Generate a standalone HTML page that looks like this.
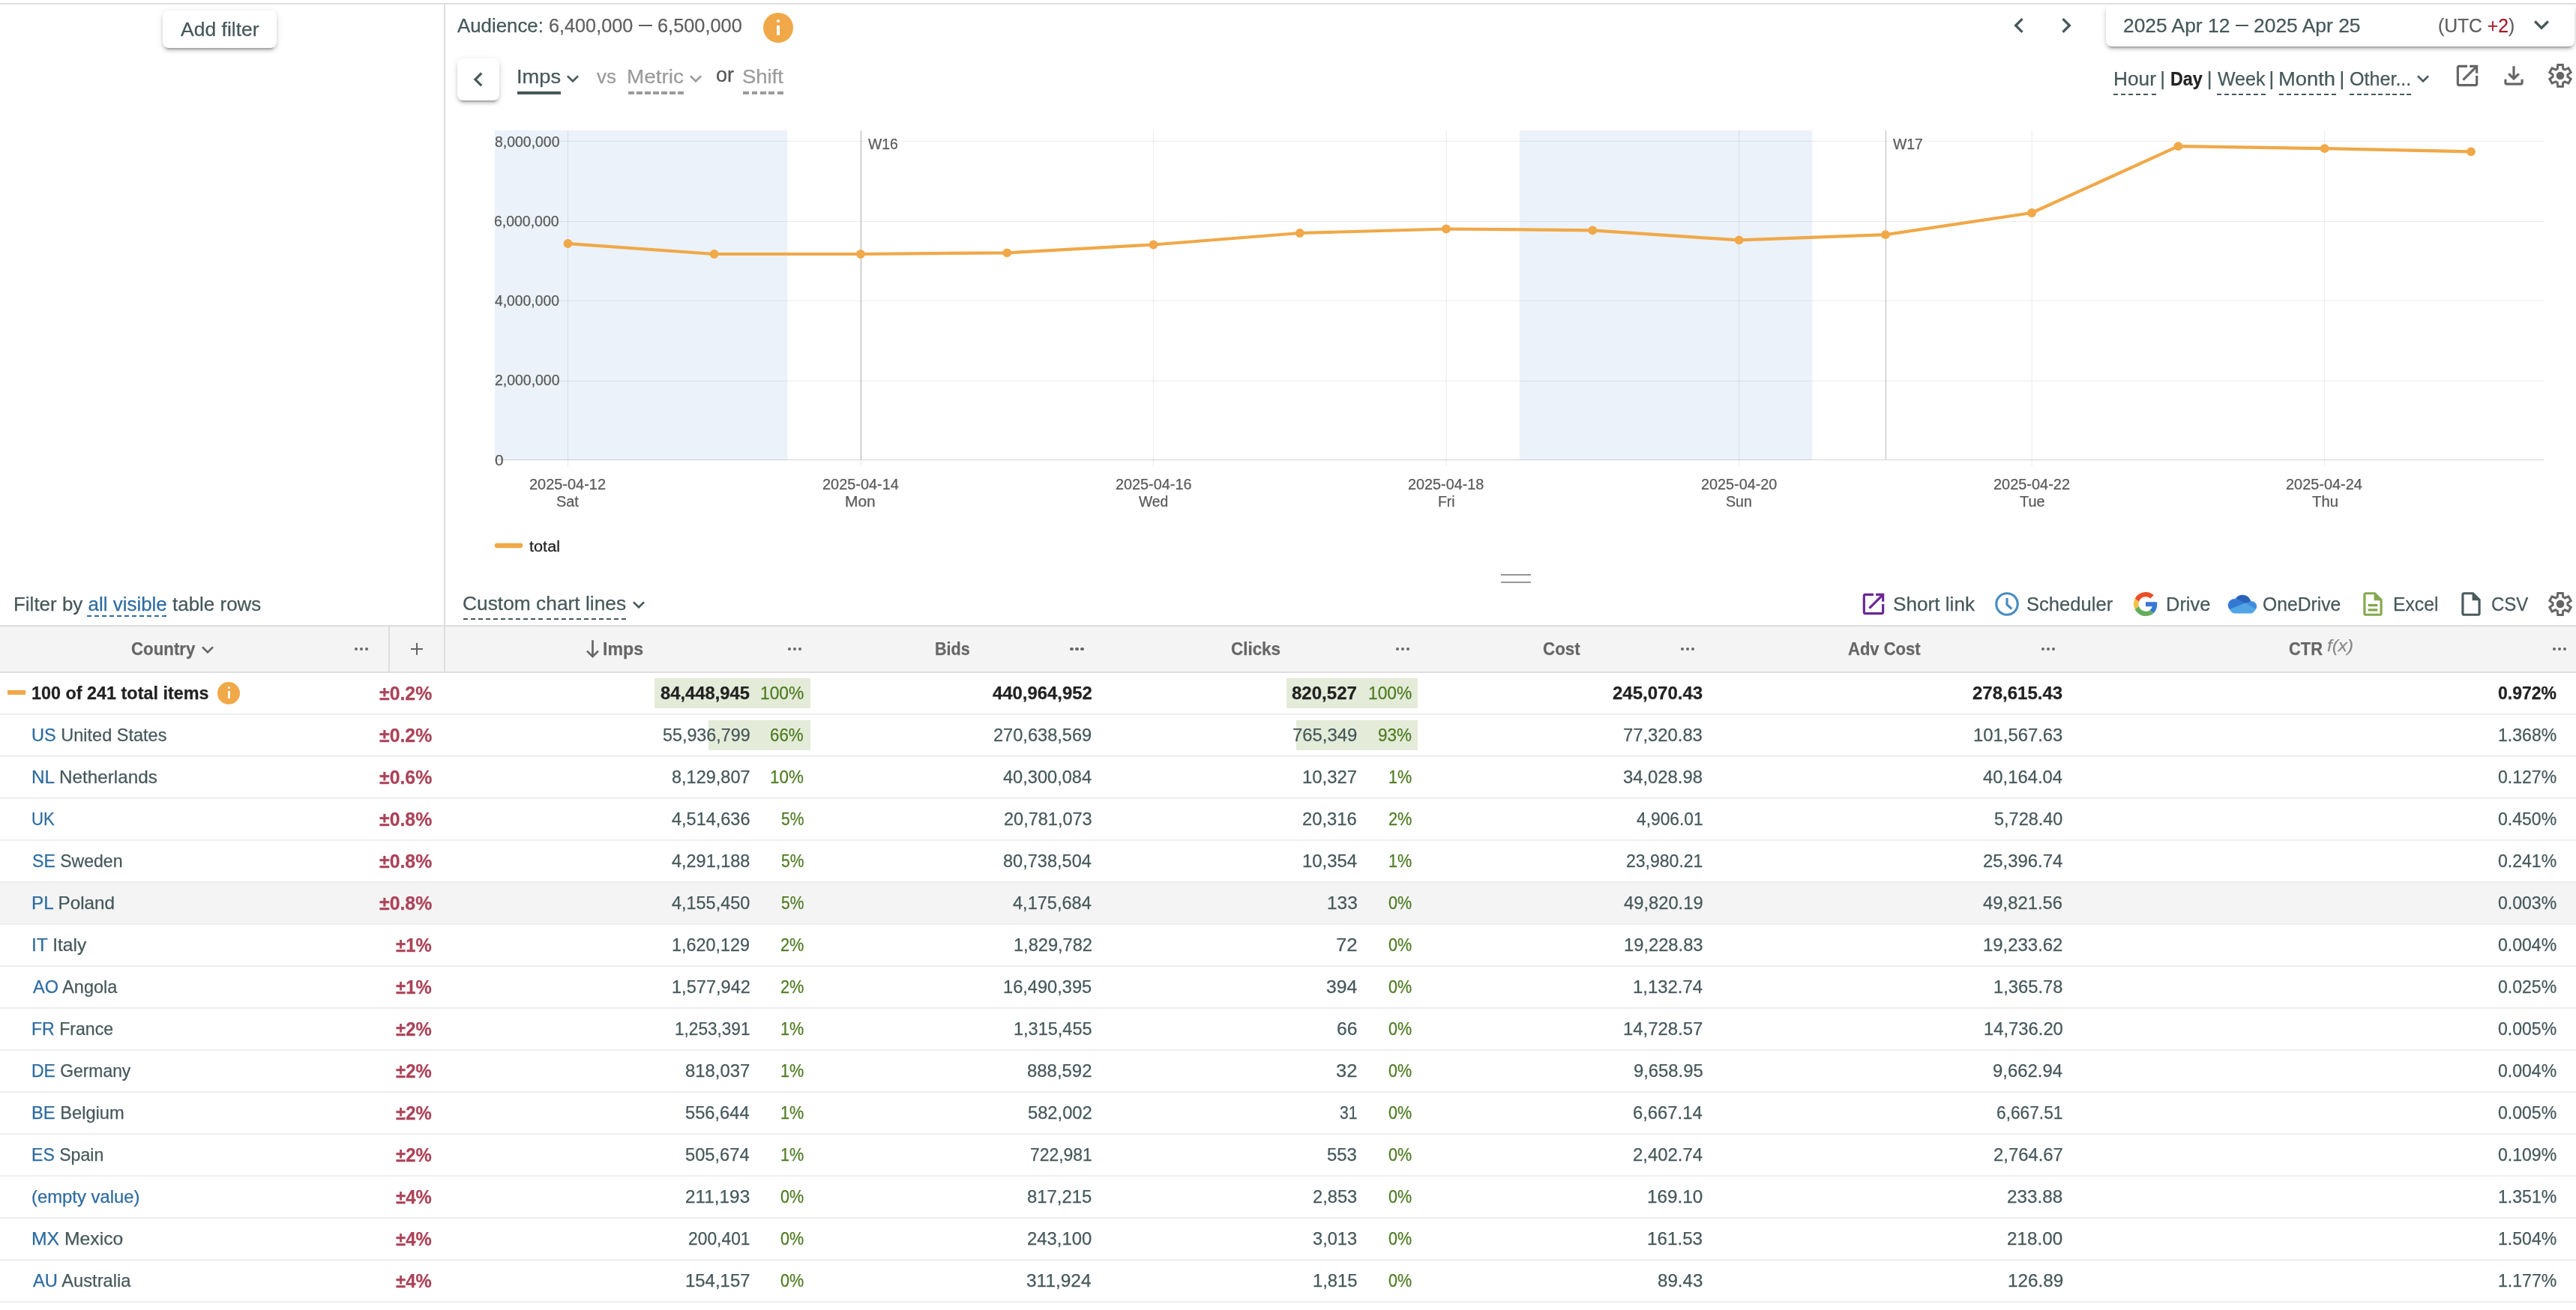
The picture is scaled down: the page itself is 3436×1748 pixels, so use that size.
<!DOCTYPE html>
<html><head><meta charset="utf-8"><title>Report</title>
<style>
html,body{margin:0;padding:0}
body{width:3436px;height:1748px;position:relative;overflow:hidden;background:#fff;font-family:"Liberation Sans", sans-serif;color:#46585a}
.a{position:absolute}
.t{position:absolute;white-space:nowrap;transform-origin:0 0;-webkit-text-stroke:0.25px currentColor}
.ic{position:absolute;overflow:visible}
.btn{position:absolute;background:#fff;border-radius:8px;box-shadow:0 6px 2px -4px rgba(0,0,0,.2),0 4px 4px 0 rgba(0,0,0,.14),0 2px 10px 0 rgba(0,0,0,.12)}
.row{position:absolute;left:0;width:3436px;height:54px;border-bottom:2px solid #eeeeee}
#app{position:absolute;left:0;top:0;width:3436px;height:1748px;overflow:hidden;will-change:transform}
</style></head><body><div id="app">
<div class="a" style="left:592px;top:6px;width:2px;height:890px;background:#dedede"></div>
<div class="btn" style="left:217px;top:14px;width:151.5px;height:50px"></div>
<span class="t" style="left:240.98px;top:22px;font-size:26px;line-height:34px;color:#46585a;transform:scaleX(1.0195)">Add filter</span>
<span class="t" style="left:609.88px;top:17px;font-size:26px;line-height:34px;color:#46585a;transform:scaleX(0.9936)">Audience:</span>
<span class="t" style="left:731.85px;top:17px;font-size:26px;line-height:34px;color:#606060;transform:scaleX(0.9706)">6,400,000</span>
<span class="t" style="left:877.25px;top:17px;font-size:26px;line-height:34px;color:#606060;transform:scaleX(0.9750)">6,500,000</span>
<div class="a" style="left:852.2px;top:33px;width:17.5px;height:2.2px;background:#606060"></div>
<div class="a" style="left:1018px;top:17px;width:40px;height:40px;border-radius:50%;background:#f0a848"></div>
<div class="a" style="left:1036px;top:26px;width:4.2px;height:4.2px;background:#fff;border-radius:50%"></div>
<div class="a" style="left:1036.3px;top:33.5px;width:3.6px;height:13px;background:#fff"></div>
<svg class="ic" style="left:2672.70px;top:14.00px" width="40" height="40" viewBox="0 0 24 24"><path fill="#46585a" d="M15.41 7.41L14 6l-6 6 6 6 1.41-1.41L10.83 12z"/></svg>
<svg class="ic" style="left:2735.50px;top:14.00px" width="40" height="40" viewBox="0 0 24 24"><path fill="#46585a" d="M10 6L8.59 7.41 13.17 12l-4.58 4.59L10 18l6-6z"/></svg>
<div class="btn" style="left:2809px;top:6px;width:624.5px;height:56px"></div>
<span class="t" style="left:2831.62px;top:17px;font-size:26px;line-height:34px;color:#46585a;transform:scaleX(1.0151)">2025 Apr 12</span>
<span class="t" style="left:3005.92px;top:17px;font-size:26px;line-height:34px;color:#46585a;transform:scaleX(1.0167)">2025 Apr 25</span>
<div class="a" style="left:2981.7px;top:33px;width:17px;height:2.2px;background:#46585a"></div>
<span class="t" style="left:3251.73px;top:17px;font-size:26px;line-height:34px;color:#606060;transform:scaleX(0.9494)">(UTC <span style="color:#a31c2e">+2</span>)</span>
<svg class="ic" style="left:3370.00px;top:13.40px" width="40" height="40" viewBox="0 0 24 24"><path fill="#46585a" d="M16.59 8.59L12 13.17 7.41 8.59 6 10l6 6 6-6z"/></svg>
<div class="a" style="left:0px;top:0px;width:3436px;height:4px;background:#fff"></div>
<div class="a" style="left:0px;top:4px;width:3436px;height:2px;background:#dedede"></div>
<div class="btn" style="left:610px;top:78px;width:56px;height:56px"></div>
<svg class="ic" style="left:619.30px;top:87.00px" width="38" height="38" viewBox="0 0 24 24"><path fill="#46585a" d="M15.41 7.41L14 6l-6 6 6 6 1.41-1.41L10.83 12z"/></svg>
<span class="t" style="left:688.93px;top:85px;font-size:26px;line-height:34px;color:#46585a;transform:scaleX(1.0488)">Imps</span>
<div class="a" style="left:690px;top:122px;width:58px;height:4px;background:#46585a"></div>
<svg class="ic" style="left:747.90px;top:88.90px" width="32" height="32" viewBox="0 0 24 24"><path fill="#46585a" d="M16.59 8.59L12 13.17 7.41 8.59 6 10l6 6 6-6z"/></svg>
<span class="t" style="left:796.17px;top:85px;font-size:26px;line-height:34px;color:#9b9b9b;transform:scaleX(0.9958)">vs</span>
<span class="t" style="left:836.22px;top:85px;font-size:26px;line-height:34px;color:#9b9b9b;transform:scaleX(1.0718)">Metric</span>
<div class="a" style="left:838.0px;top:122px;width:74.0px;height:4px;background:repeating-linear-gradient(90deg,#9b9b9b 0 8px,transparent 8px 11.000px)"></div>
<svg class="ic" style="left:911.60px;top:88.90px" width="32" height="32" viewBox="0 0 24 24"><path fill="#9b9b9b" d="M16.59 8.59L12 13.17 7.41 8.59 6 10l6 6 6-6z"/></svg>
<span class="t" style="left:955.38px;top:82px;font-size:28px;line-height:36px;color:#555555;transform:scaleX(0.9662)">or</span>
<span class="t" style="left:989.84px;top:85px;font-size:26px;line-height:34px;color:#9b9b9b;transform:scaleX(1.0535)">Shift</span>
<div class="a" style="left:991.0px;top:122px;width:54.0px;height:4px;background:repeating-linear-gradient(90deg,#9b9b9b 0 8px,transparent 8px 11.500px)"></div>
<span class="t" style="left:2818.66px;top:88px;font-size:26px;line-height:34px;color:#46585a;transform:scaleX(1.0114)">Hour</span>
<span class="t" style="left:2881.22px;top:88px;font-size:26px;line-height:34px;color:#46585a;transform:scaleX(1.0000)">|</span>
<span class="t" style="left:2895.05px;top:88px;font-size:26px;line-height:34px;color:#222222;transform:scaleX(0.8963);font-weight:700">Day</span>
<span class="t" style="left:2943.82px;top:88px;font-size:26px;line-height:34px;color:#46585a;transform:scaleX(1.0000)">|</span>
<span class="t" style="left:2958.19px;top:88px;font-size:26px;line-height:34px;color:#46585a;transform:scaleX(0.9605)">Week</span>
<span class="t" style="left:3026.42px;top:88px;font-size:26px;line-height:34px;color:#46585a;transform:scaleX(1.0000)">|</span>
<span class="t" style="left:3039.26px;top:88px;font-size:26px;line-height:34px;color:#46585a;transform:scaleX(1.0528)">Month</span>
<span class="t" style="left:3120.62px;top:88px;font-size:26px;line-height:34px;color:#46585a;transform:scaleX(1.0000)">|</span>
<span class="t" style="left:3134.22px;top:88px;font-size:26px;line-height:34px;color:#46585a;transform:scaleX(0.9655)">Other...</span>
<div class="a" style="left:2819.3px;top:125px;width:56.5px;height:2px;background:repeating-linear-gradient(90deg,#46585a 0 6px,transparent 6px 10.100px)"></div>
<div class="a" style="left:2957.0px;top:125px;width:64.8px;height:2px;background:repeating-linear-gradient(90deg,#46585a 0 6px,transparent 6px 9.800px)"></div>
<div class="a" style="left:3040.0px;top:125px;width:75.6px;height:2px;background:repeating-linear-gradient(90deg,#46585a 0 6px,transparent 6px 9.943px)"></div>
<div class="a" style="left:3133.8px;top:125px;width:82.5px;height:2px;background:repeating-linear-gradient(90deg,#46585a 0 6px,transparent 6px 9.562px)"></div>
<svg class="ic" style="left:3216.00px;top:88.90px" width="32" height="32" viewBox="0 0 24 24"><path fill="#46585a" d="M16.59 8.59L12 13.17 7.41 8.59 6 10l6 6 6-6z"/></svg>
<svg class="ic" style="left:3272.00px;top:82.00px" width="38" height="38" viewBox="0 0 24 24"><path fill="#666" d="M19 19H5V5h7V3H5c-1.11 0-2 .9-2 2v14c0 1.1.89 2 2 2h14c1.1 0 2-.9 2-2v-7h-2v7zM14 3v2h3.59l-9.83 9.83 1.41 1.41L19 6.41V10h2V3h-7z"/></svg>
<svg class="ic" style="left:3334.00px;top:82.00px" width="38" height="38" viewBox="0 0 24 24"><path fill="#666" d="M18 15v3H6v-3H4v3c0 1.1.9 2 2 2h12c1.1 0 2-.9 2-2v-3h-2zm-1-4l-1.41-1.41L13 12.17V4h-2v8.17L8.41 9.59 7 11l5 5 5-5z"/></svg>
<svg class="ic" style="left:0;top:0" width="3436" height="900"><path d="M3411.19 91.75L3411.75 86.50L3418.25 86.50L3418.81 91.75A10.0 10.0 0 0 1 3421.11 93.08L3425.93 90.94L3429.18 96.56L3424.92 99.67A10.0 10.0 0 0 1 3424.92 102.33L3429.18 105.44L3425.93 111.06L3421.11 108.92A10.0 10.0 0 0 1 3418.81 110.25L3418.25 115.50L3411.75 115.50L3411.19 110.25A10.0 10.0 0 0 1 3408.89 108.92L3404.07 111.06L3400.82 105.44L3405.08 102.33A10.0 10.0 0 0 1 3405.08 99.67L3400.82 96.56L3404.07 90.94L3408.89 93.08A10.0 10.0 0 0 1 3411.19 91.75Z" fill="none" stroke="#666666" stroke-width="3" stroke-linejoin="miter"/><circle cx="3415" cy="101" r="5.3" fill="#666666"/><path d="M3411.19 796.65L3411.75 791.40L3418.25 791.40L3418.81 796.65A10.0 10.0 0 0 1 3421.11 797.98L3425.93 795.84L3429.18 801.46L3424.92 804.57A10.0 10.0 0 0 1 3424.92 807.23L3429.18 810.34L3425.93 815.96L3421.11 813.82A10.0 10.0 0 0 1 3418.81 815.15L3418.25 820.40L3411.75 820.40L3411.19 815.15A10.0 10.0 0 0 1 3408.89 813.82L3404.07 815.96L3400.82 810.34L3405.08 807.23A10.0 10.0 0 0 1 3405.08 804.57L3400.82 801.46L3404.07 795.84L3408.89 797.98A10.0 10.0 0 0 1 3411.19 796.65Z" fill="none" stroke="#666666" stroke-width="3" stroke-linejoin="miter"/><circle cx="3415" cy="805.9" r="5.3" fill="#666666"/></svg>
<svg class="ic" style="left:0;top:0" width="3436" height="760"><rect x="659.9" y="174" width="390.5" height="439.5" fill="#ebf2f9"/><rect x="2026.8" y="174" width="390.5" height="439.5" fill="#ebf2f9"/><rect x="660" y="188" width="2733.5" height="1" fill="rgba(0,0,0,0.065)"/><rect x="660" y="295" width="2733.5" height="1" fill="rgba(0,0,0,0.065)"/><rect x="660" y="401" width="2733.5" height="1" fill="rgba(0,0,0,0.065)"/><rect x="660" y="508" width="2733.5" height="1" fill="rgba(0,0,0,0.065)"/><rect x="757.00" y="174" width="1" height="448" fill="rgba(0,0,0,0.085)"/><rect x="1147.54" y="174" width="1" height="448" fill="rgba(0,0,0,0.085)"/><rect x="1538.08" y="174" width="1" height="448" fill="rgba(0,0,0,0.085)"/><rect x="1928.62" y="174" width="1" height="448" fill="rgba(0,0,0,0.085)"/><rect x="2319.16" y="174" width="1" height="448" fill="rgba(0,0,0,0.085)"/><rect x="2709.70" y="174" width="1" height="448" fill="rgba(0,0,0,0.085)"/><rect x="3100.24" y="174" width="1" height="448" fill="rgba(0,0,0,0.085)"/><rect x="1147.94" y="174" width="1.2" height="439" fill="rgba(0,0,0,0.24)"/><rect x="2514.83" y="174" width="1.2" height="439" fill="rgba(0,0,0,0.24)"/><rect x="660" y="613" width="2733.5" height="1.2" fill="rgba(0,0,0,0.145)"/><polyline fill="none" stroke="#f0a848" stroke-width="4.2" stroke-linejoin="round" stroke-linecap="round" points="757.5,325.0 952.6,339.0 1148.0,339.0 1343.2,337.3 1538.5,326.5 1733.8,311.0 1929.0,305.5 2124.3,307.3 2319.6,320.4 2514.9,313.2 2710.1,284.0 2905.4,195.2 3100.7,198.2 3296.0,202.3"/><circle cx="757.5" cy="325.0" r="5.9" fill="#f0a848"/><circle cx="952.6" cy="339.0" r="5.9" fill="#f0a848"/><circle cx="1148.0" cy="339.0" r="5.9" fill="#f0a848"/><circle cx="1343.2" cy="337.3" r="5.9" fill="#f0a848"/><circle cx="1538.5" cy="326.5" r="5.9" fill="#f0a848"/><circle cx="1733.8" cy="311.0" r="5.9" fill="#f0a848"/><circle cx="1929.0" cy="305.5" r="5.9" fill="#f0a848"/><circle cx="2124.3" cy="307.3" r="5.9" fill="#f0a848"/><circle cx="2319.6" cy="320.4" r="5.9" fill="#f0a848"/><circle cx="2514.9" cy="313.2" r="5.9" fill="#f0a848"/><circle cx="2710.1" cy="284.0" r="5.9" fill="#f0a848"/><circle cx="2905.4" cy="195.2" r="5.9" fill="#f0a848"/><circle cx="3100.7" cy="198.2" r="5.9" fill="#f0a848"/><circle cx="3296.0" cy="202.3" r="5.9" fill="#f0a848"/><line x1="663" y1="728" x2="694" y2="728" stroke="#f0a848" stroke-width="6.5" stroke-linecap="round"/></svg>
<span class="t" style="left:659.54px;top:175px;font-size:20px;line-height:28px;color:#5a5a5a;transform:scaleX(0.9716)">8,000,000</span>
<span class="t" style="left:659.48px;top:281px;font-size:20px;line-height:28px;color:#5a5a5a;transform:scaleX(0.9724)">6,000,000</span>
<span class="t" style="left:660.12px;top:387px;font-size:20px;line-height:28px;color:#5a5a5a;transform:scaleX(0.9650)">4,000,000</span>
<span class="t" style="left:659.51px;top:493px;font-size:20px;line-height:28px;color:#5a5a5a;transform:scaleX(0.9720)">2,000,000</span>
<span class="t" style="left:659.50px;top:600px;font-size:20px;line-height:28px;color:#5a5a5a;transform:scaleX(1.0460)">0</span>
<span class="t" style="left:1157.99px;top:178px;font-size:20px;line-height:28px;color:#5a5a5a;transform:scaleX(0.9671)">W16</span>
<span class="t" style="left:2524.99px;top:178px;font-size:20px;line-height:28px;color:#5a5a5a;transform:scaleX(0.9690)">W17</span>
<span class="t" style="left:706.38px;top:632px;font-size:20px;line-height:28px;color:#5a5a5a;transform:scaleX(0.9968)">2025-04-12</span>
<span class="t" style="left:741.97px;top:655px;font-size:20px;line-height:28px;color:#5a5a5a;transform:scaleX(0.9960)">Sat</span>
<span class="t" style="left:1096.79px;top:632px;font-size:20px;line-height:28px;color:#5a5a5a;transform:scaleX(0.9957)">2025-04-14</span>
<span class="t" style="left:1127.48px;top:655px;font-size:20px;line-height:28px;color:#5a5a5a;transform:scaleX(1.0463)">Mon</span>
<span class="t" style="left:1487.68px;top:632px;font-size:20px;line-height:28px;color:#5a5a5a;transform:scaleX(0.9916)">2025-04-16</span>
<span class="t" style="left:1519.30px;top:655px;font-size:20px;line-height:28px;color:#5a5a5a;transform:scaleX(0.9652)">Wed</span>
<span class="t" style="left:1878.26px;top:632px;font-size:20px;line-height:28px;color:#5a5a5a;transform:scaleX(0.9908)">2025-04-18</span>
<span class="t" style="left:1917.52px;top:655px;font-size:20px;line-height:28px;color:#5a5a5a;transform:scaleX(0.9703)">Fri</span>
<span class="t" style="left:2268.79px;top:632px;font-size:20px;line-height:28px;color:#5a5a5a;transform:scaleX(0.9899)">2025-04-20</span>
<span class="t" style="left:2302.08px;top:655px;font-size:20px;line-height:28px;color:#5a5a5a;transform:scaleX(0.9822)">Sun</span>
<span class="t" style="left:2659.08px;top:632px;font-size:20px;line-height:28px;color:#5a5a5a;transform:scaleX(0.9968)">2025-04-22</span>
<span class="t" style="left:2693.63px;top:655px;font-size:20px;line-height:28px;color:#5a5a5a;transform:scaleX(0.9970)">Tue</span>
<span class="t" style="left:3049.49px;top:632px;font-size:20px;line-height:28px;color:#5a5a5a;transform:scaleX(0.9957)">2025-04-24</span>
<span class="t" style="left:3083.73px;top:655px;font-size:20px;line-height:28px;color:#5a5a5a;transform:scaleX(1.0178)">Thu</span>
<span class="t" style="left:705.91px;top:715px;font-size:20px;line-height:28px;color:#222222;transform:scaleX(1.0860)">total</span>
<div class="a" style="left:2002px;top:766px;width:40px;height:2px;background:#979797"></div>
<div class="a" style="left:2002px;top:776px;width:40px;height:2px;background:#979797"></div>
<span class="t" style="left:18.18px;top:789px;font-size:26px;line-height:34px;color:#46585a;transform:scaleX(0.9981)">Filter by <span style="color:#2e6ca0">all visible</span> table rows</span>
<div class="a" style="left:116.0px;top:821px;width:106.0px;height:2px;background:repeating-linear-gradient(90deg,#2e6ca0 0 6px,transparent 6px 10.000px)"></div>
<span class="t" style="left:617.37px;top:788px;font-size:26px;line-height:34px;color:#46585a;transform:scaleX(1.0134)">Custom chart lines</span>
<div class="a" style="left:618.0px;top:825px;width:217.0px;height:2px;background:repeating-linear-gradient(90deg,#46585a 0 6px,transparent 6px 10.048px)"></div>
<svg class="ic" style="left:836.00px;top:790.60px" width="32" height="32" viewBox="0 0 24 24"><path fill="#46585a" d="M16.59 8.59L12 13.17 7.41 8.59 6 10l6 6 6-6z"/></svg>
<svg class="ic" style="left:2479.50px;top:786.80px" width="38" height="38" viewBox="0 0 24 24"><path fill="#6a2796" d="M19 19H5V5h7V3H5c-1.11 0-2 .9-2 2v14c0 1.1.89 2 2 2h14c1.1 0 2-.9 2-2v-7h-2v7zM14 3v2h3.59l-9.83 9.83 1.41 1.41L19 6.41V10h2V3h-7z"/></svg>
<span class="t" style="left:2524.61px;top:789px;font-size:26px;line-height:34px;color:#46585a;transform:scaleX(1.0062)">Short link</span>
<svg class="ic" style="left:2658.3px;top:786.9px" width="38" height="38" viewBox="0 0 24 24"><circle cx="12" cy="12" r="9" fill="none" stroke="#4a8cc2" stroke-width="2"/><path d="M12 7V12.45L16 16.1" fill="none" stroke="#4a8cc2" stroke-width="2"/></svg>
<span class="t" style="left:2703.05px;top:789px;font-size:26px;line-height:34px;color:#46585a;transform:scaleX(0.9843)">Scheduler</span>
<svg class="ic" style="left:2845.9px;top:790px" width="32" height="32" viewBox="0 0 48 48"><path fill="#e94f27" d="M24 9.5c3.54 0 6.71 1.22 9.21 3.6l6.85-6.85C35.9 2.38 30.47 0 24 0 14.62 0 6.51 5.38 2.56 13.22l7.98 6.19C12.43 13.72 17.74 9.5 24 9.5z"/><path fill="#3a78d6" d="M46.98 24.55c0-1.57-.15-3.09-.38-4.55H24v9.02h12.94c-.58 2.96-2.26 5.48-4.78 7.18l7.73 6c4.51-4.18 7.09-10.36 7.09-17.65z"/><path fill="#f5c144" d="M10.53 28.59c-.48-1.45-.76-2.99-.76-4.59s.27-3.14.76-4.59l-7.98-6.19C.92 16.46 0 20.12 0 24c0 3.88.92 7.54 2.56 10.78l7.97-6.19z"/><path fill="#66ad5b" d="M24 48c6.48 0 11.93-2.13 15.89-5.81l-7.73-6c-2.15 1.45-4.92 2.3-8.16 2.3-6.26 0-11.57-4.22-13.47-9.91l-7.98 6.19C6.51 42.62 14.62 48 24 48z"/></svg>
<span class="t" style="left:2888.63px;top:789px;font-size:26px;line-height:34px;color:#46585a;transform:scaleX(0.9792)">Drive</span>
<svg class="ic" style="left:2972px;top:793.9px" width="38" height="24.3" viewBox="0 0 38 24.3"><path fill="#2a62b9" stroke="#2a62b9" stroke-width="0.5" d="M9.97 4.88C12 1.8 15.2 0 18.9 0C24.5 0 28.6 3.4 30.4 8.66L22.7 11.2Z"/><path fill="#3379d4" stroke="#3379d4" stroke-width="0.5" d="M0 13.8C0 9 3.8 5.2 8.6 5.2C9.1 5.2 9.5 5 9.97 4.88L22.9 11.07L2.4 19.4C0.9 17.8 0 15.9 0 13.8Z"/><path fill="#3f8ddd" stroke="#3f8ddd" stroke-width="0.5" d="M22.6 11.1L30.4 8.66C31 8.55 31.6 8.5 32.2 8.6C35.5 9 38 11.8 38 15.3C38 16.7 37.4 18 36.4 19.1Z"/><path fill="#51a5e5" stroke="#51a5e5" stroke-width="0.5" d="M2.4 19.3L22.7 11.07L36.4 19C35.3 22 32.9 24.3 30 24.3H9C6 24.3 3.6 22.3 2.4 19.3Z"/></svg>
<span class="t" style="left:3017.94px;top:789px;font-size:26px;line-height:34px;color:#46585a;transform:scaleX(0.9489)">OneDrive</span>
<svg class="ic" style="left:3146.00px;top:786.85px" width="38" height="38" viewBox="0 0 24 24"><path fill="#84a94d" d="M8 16h8v2H8zm0-4h8v2H8zm6-10H6c-1.1 0-2 .9-2 2v16c0 1.1.89 2 1.99 2H18c1.1 0 2-.9 2-2V8l-6-6zm4 18H6V4h7v5h5v11z"/></svg>
<span class="t" style="left:3191.69px;top:789px;font-size:26px;line-height:34px;color:#46585a;transform:scaleX(0.9516)">Excel</span>
<svg class="ic" style="left:3276.90px;top:786.85px" width="38" height="38" viewBox="0 0 24 24"><path fill="#4a5b5d" d="M14 2H6c-1.1 0-1.99.9-1.99 2L4 20c0 1.1.89 2 1.99 2H18c1.1 0 2-.9 2-2V8l-6-6zM6 20V4h7v5h5v11H6z"/></svg>
<span class="t" style="left:3322.60px;top:789px;font-size:26px;line-height:34px;color:#46585a;transform:scaleX(0.9219)">CSV</span>
<div class="a" style="left:0px;top:834px;width:3436px;height:2px;background:#dedede"></div>
<div class="a" style="left:0px;top:836px;width:3436px;height:60px;background:#f4f4f4"></div>
<div class="a" style="left:0px;top:896px;width:3436px;height:2px;background:#dedede"></div>
<div class="a" style="left:518px;top:836px;width:2px;height:60px;background:#dedede"></div>
<div class="a" style="left:592px;top:836px;width:2px;height:60px;background:#dedede"></div>
<div class="a" style="left:472.8px;top:863.8px;width:4.4px;height:4.4px;border-radius:50%;background:#666"></div><div class="a" style="left:479.8px;top:863.8px;width:4.4px;height:4.4px;border-radius:50%;background:#666"></div><div class="a" style="left:486.8px;top:863.8px;width:4.4px;height:4.4px;border-radius:50%;background:#666"></div>
<div class="a" style="left:1050.8px;top:863.8px;width:4.4px;height:4.4px;border-radius:50%;background:#666"></div><div class="a" style="left:1057.8px;top:863.8px;width:4.4px;height:4.4px;border-radius:50%;background:#666"></div><div class="a" style="left:1064.8px;top:863.8px;width:4.4px;height:4.4px;border-radius:50%;background:#666"></div>
<div class="a" style="left:1427.3px;top:863.8px;width:4.4px;height:4.4px;border-radius:50%;background:#666"></div><div class="a" style="left:1434.3px;top:863.8px;width:4.4px;height:4.4px;border-radius:50%;background:#666"></div><div class="a" style="left:1441.3px;top:863.8px;width:4.4px;height:4.4px;border-radius:50%;background:#666"></div>
<div class="a" style="left:1861.8px;top:863.8px;width:4.4px;height:4.4px;border-radius:50%;background:#666"></div><div class="a" style="left:1868.8px;top:863.8px;width:4.4px;height:4.4px;border-radius:50%;background:#666"></div><div class="a" style="left:1875.8px;top:863.8px;width:4.4px;height:4.4px;border-radius:50%;background:#666"></div>
<div class="a" style="left:2241.8px;top:863.8px;width:4.4px;height:4.4px;border-radius:50%;background:#666"></div><div class="a" style="left:2248.8px;top:863.8px;width:4.4px;height:4.4px;border-radius:50%;background:#666"></div><div class="a" style="left:2255.8px;top:863.8px;width:4.4px;height:4.4px;border-radius:50%;background:#666"></div>
<div class="a" style="left:2722.8px;top:863.8px;width:4.4px;height:4.4px;border-radius:50%;background:#666"></div><div class="a" style="left:2729.8px;top:863.8px;width:4.4px;height:4.4px;border-radius:50%;background:#666"></div><div class="a" style="left:2736.8px;top:863.8px;width:4.4px;height:4.4px;border-radius:50%;background:#666"></div>
<div class="a" style="left:3404.8px;top:863.8px;width:4.4px;height:4.4px;border-radius:50%;background:#666"></div><div class="a" style="left:3411.8px;top:863.8px;width:4.4px;height:4.4px;border-radius:50%;background:#666"></div><div class="a" style="left:3418.8px;top:863.8px;width:4.4px;height:4.4px;border-radius:50%;background:#666"></div>
<span class="t" style="left:174.95px;top:850px;font-size:24px;line-height:32px;color:#666666;transform:scaleX(0.9286);font-weight:700">Country</span>
<svg class="ic" style="left:261.00px;top:851.00px" width="32" height="32" viewBox="0 0 24 24"><path fill="#666" d="M16.59 8.59L12 13.17 7.41 8.59 6 10l6 6 6-6z"/></svg>
<div class="a" style="left:548.2px;top:865px;width:15.8px;height:2.2px;background:#646464"></div>
<div class="a" style="left:555px;top:858.2px;width:2.2px;height:15.6px;background:#646464"></div>
<svg class="ic" style="left:0;top:0" width="900" height="900"><path d="M790.5 854.2V876M783 868.6L790.5 876.1L798 868.6" fill="none" stroke="#666" stroke-width="2.7"/></svg>
<span class="t" style="left:804.33px;top:850px;font-size:24px;line-height:32px;color:#666666;transform:scaleX(0.9639);font-weight:700">Imps</span>
<span class="t" style="left:1247.34px;top:850px;font-size:24px;line-height:32px;color:#666666;transform:scaleX(0.8961);font-weight:700">Bids</span>
<span class="t" style="left:1641.95px;top:850px;font-size:24px;line-height:32px;color:#666666;transform:scaleX(0.9341);font-weight:700">Clicks</span>
<span class="t" style="left:2057.75px;top:850px;font-size:24px;line-height:32px;color:#666666;transform:scaleX(0.9308);font-weight:700">Cost</span>
<span class="t" style="left:2465.31px;top:850px;font-size:24px;line-height:32px;color:#666666;transform:scaleX(0.9169);font-weight:700">Adv Cost</span>
<span class="t" style="left:3053.17px;top:850px;font-size:24px;line-height:32px;color:#666666;transform:scaleX(0.9120);font-weight:700">CTR</span>
<span class="t" style="left:3103.64px;top:847px;font-size:22px;line-height:30px;color:#8a8a8a;transform:scaleX(1.1007);font-style:italic">f(x)</span>
<div class="row" style="top:898px"></div>
<div class="row" style="top:954px"></div>
<div class="row" style="top:1010px"></div>
<div class="row" style="top:1066px"></div>
<div class="row" style="top:1122px"></div>
<div class="row" style="top:1178px;background:#f4f4f4"></div>
<div class="row" style="top:1234px"></div>
<div class="row" style="top:1290px"></div>
<div class="row" style="top:1346px"></div>
<div class="row" style="top:1402px"></div>
<div class="row" style="top:1458px"></div>
<div class="row" style="top:1514px"></div>
<div class="row" style="top:1570px"></div>
<div class="row" style="top:1626px"></div>
<div class="row" style="top:1682px"></div>
<div class="a" style="left:873px;top:905px;width:208px;height:39.5px;background:#e4ebd9"></div>
<div class="a" style="left:945px;top:961px;width:136px;height:39.5px;background:#e4ebd9"></div>
<div class="a" style="left:1715.8px;top:905px;width:175.2px;height:39.5px;background:#e4ebd9"></div>
<div class="a" style="left:1728.8px;top:961px;width:162.2px;height:39.5px;background:#e4ebd9"></div>
<div class="a" style="left:10px;top:921px;width:24px;height:6px;background:#f0a848"></div>
<div class="a" style="left:290.3px;top:909.5px;width:30px;height:30px;border-radius:50%;background:#f0a848"></div>
<div class="a" style="left:303.8px;top:916.2px;width:3.2px;height:3.2px;background:#fff;border-radius:50%"></div>
<div class="a" style="left:304px;top:921.6px;width:2.8px;height:10px;background:#fff"></div>
<span class="t" style="left:41.90px;top:909px;font-size:24px;line-height:32px;color:#222222;transform:scaleX(0.9742);font-weight:700">100 of 241 total items</span>
<span class="t" style="left:505.57px;top:908px;font-size:26px;line-height:34px;color:#ab4358;transform:scaleX(0.9553);font-weight:700">±0.2%</span>
<span class="t" style="left:881.21px;top:909px;font-size:24px;line-height:32px;color:#222222;transform:scaleX(0.9909);font-weight:700">84,448,945</span>
<span class="t" style="left:1013.96px;top:909px;font-size:24px;line-height:32px;color:#4e7b22;transform:scaleX(0.9504)">100%</span>
<span class="t" style="left:1323.68px;top:909px;font-size:24px;line-height:32px;color:#222222;transform:scaleX(0.9951);font-weight:700">440,964,952</span>
<span class="t" style="left:1723.25px;top:909px;font-size:24px;line-height:32px;color:#222222;transform:scaleX(1.0016);font-weight:700">820,527</span>
<span class="t" style="left:1824.66px;top:909px;font-size:24px;line-height:32px;color:#4e7b22;transform:scaleX(0.9504)">100%</span>
<span class="t" style="left:2150.78px;top:909px;font-size:24px;line-height:32px;color:#222222;transform:scaleX(1.0008);font-weight:700">245,070.43</span>
<span class="t" style="left:2631.18px;top:909px;font-size:24px;line-height:32px;color:#222222;transform:scaleX(1.0008);font-weight:700">278,615.43</span>
<span class="t" style="left:3331.83px;top:909px;font-size:24px;line-height:32px;color:#222222;transform:scaleX(0.9582);font-weight:700">0.972%</span>
<span class="t" style="left:41.99px;top:965px;font-size:24px;line-height:32px;color:#46585a;transform:scaleX(0.9802)"><span style="color:#2e6ca0">US</span> United States</span>
<span class="t" style="left:505.57px;top:964px;font-size:26px;line-height:34px;color:#ab4358;transform:scaleX(0.9553);font-weight:700">±0.2%</span>
<span class="t" style="left:884.10px;top:965px;font-size:24px;line-height:32px;color:#46585a;transform:scaleX(0.9713)">55,936,799</span>
<span class="t" style="left:1027.49px;top:965px;font-size:24px;line-height:32px;color:#4e7b22;transform:scaleX(0.9297)">66%</span>
<span class="t" style="left:1325.41px;top:965px;font-size:24px;line-height:32px;color:#46585a;transform:scaleX(0.9831)">270,638,569</span>
<span class="t" style="left:1723.91px;top:965px;font-size:24px;line-height:32px;color:#46585a;transform:scaleX(0.9947)">765,349</span>
<span class="t" style="left:1837.92px;top:965px;font-size:24px;line-height:32px;color:#4e7b22;transform:scaleX(0.9355)">93%</span>
<span class="t" style="left:2165.32px;top:965px;font-size:24px;line-height:32px;color:#46585a;transform:scaleX(0.9914)">77,320.83</span>
<span class="t" style="left:2632.42px;top:965px;font-size:24px;line-height:32px;color:#46585a;transform:scaleX(0.9937)">101,567.63</span>
<span class="t" style="left:3331.77px;top:965px;font-size:24px;line-height:32px;color:#46585a;transform:scaleX(0.9613)">1.368%</span>
<span class="t" style="left:41.86px;top:1021px;font-size:24px;line-height:32px;color:#46585a;transform:scaleX(1.0115)"><span style="color:#2e6ca0">NL</span> Netherlands</span>
<span class="t" style="left:505.57px;top:1020px;font-size:26px;line-height:34px;color:#ab4358;transform:scaleX(0.9553);font-weight:700">±0.6%</span>
<span class="t" style="left:896.15px;top:1021px;font-size:24px;line-height:32px;color:#46585a;transform:scaleX(0.9788)">8,129,807</span>
<span class="t" style="left:1027.32px;top:1021px;font-size:24px;line-height:32px;color:#4e7b22;transform:scaleX(0.9333)">10%</span>
<span class="t" style="left:1338.04px;top:1021px;font-size:24px;line-height:32px;color:#46585a;transform:scaleX(0.9831)">40,300,084</span>
<span class="t" style="left:1737.18px;top:1021px;font-size:24px;line-height:32px;color:#46585a;transform:scaleX(0.9965)">10,327</span>
<span class="t" style="left:1851.76px;top:1021px;font-size:24px;line-height:32px;color:#4e7b22;transform:scaleX(0.9010)">1%</span>
<span class="t" style="left:2165.24px;top:1021px;font-size:24px;line-height:32px;color:#46585a;transform:scaleX(0.9919)">34,028.98</span>
<span class="t" style="left:2644.98px;top:1021px;font-size:24px;line-height:32px;color:#46585a;transform:scaleX(0.9939)">40,164.04</span>
<span class="t" style="left:3331.92px;top:1021px;font-size:24px;line-height:32px;color:#46585a;transform:scaleX(0.9596)">0.127%</span>
<span class="t" style="left:42.10px;top:1077px;font-size:24px;line-height:32px;color:#46585a;transform:scaleX(0.9224)"><span style="color:#2e6ca0">UK</span></span>
<span class="t" style="left:505.57px;top:1076px;font-size:26px;line-height:34px;color:#ab4358;transform:scaleX(0.9553);font-weight:700">±0.8%</span>
<span class="t" style="left:896.06px;top:1077px;font-size:24px;line-height:32px;color:#46585a;transform:scaleX(0.9786)">4,514,636</span>
<span class="t" style="left:1041.88px;top:1077px;font-size:24px;line-height:32px;color:#4e7b22;transform:scaleX(0.8769)">5%</span>
<span class="t" style="left:1338.99px;top:1077px;font-size:24px;line-height:32px;color:#46585a;transform:scaleX(0.9797)">20,781,073</span>
<span class="t" style="left:1737.43px;top:1077px;font-size:24px;line-height:32px;color:#46585a;transform:scaleX(0.9917)">20,316</span>
<span class="t" style="left:1851.57px;top:1077px;font-size:24px;line-height:32px;color:#4e7b22;transform:scaleX(0.9068)">2%</span>
<span class="t" style="left:2182.58px;top:1077px;font-size:24px;line-height:32px;color:#46585a;transform:scaleX(0.9494)">4,906.01</span>
<span class="t" style="left:2660.10px;top:1077px;font-size:24px;line-height:32px;color:#46585a;transform:scaleX(0.9786)">5,728.40</span>
<span class="t" style="left:3331.92px;top:1077px;font-size:24px;line-height:32px;color:#46585a;transform:scaleX(0.9596)">0.450%</span>
<span class="t" style="left:42.65px;top:1133px;font-size:24px;line-height:32px;color:#46585a;transform:scaleX(0.9608)"><span style="color:#2e6ca0">SE</span> Sweden</span>
<span class="t" style="left:505.57px;top:1132px;font-size:26px;line-height:34px;color:#ab4358;transform:scaleX(0.9553);font-weight:700">±0.8%</span>
<span class="t" style="left:896.23px;top:1133px;font-size:24px;line-height:32px;color:#46585a;transform:scaleX(0.9769)">4,291,188</span>
<span class="t" style="left:1041.88px;top:1133px;font-size:24px;line-height:32px;color:#4e7b22;transform:scaleX(0.8769)">5%</span>
<span class="t" style="left:1338.20px;top:1133px;font-size:24px;line-height:32px;color:#46585a;transform:scaleX(0.9818)">80,738,504</span>
<span class="t" style="left:1736.75px;top:1133px;font-size:24px;line-height:32px;color:#46585a;transform:scaleX(0.9966)">10,354</span>
<span class="t" style="left:1851.76px;top:1133px;font-size:24px;line-height:32px;color:#4e7b22;transform:scaleX(0.9010)">1%</span>
<span class="t" style="left:2168.82px;top:1133px;font-size:24px;line-height:32px;color:#46585a;transform:scaleX(0.9589)">23,980.21</span>
<span class="t" style="left:2644.88px;top:1133px;font-size:24px;line-height:32px;color:#46585a;transform:scaleX(0.9948)">25,396.74</span>
<span class="t" style="left:3331.92px;top:1133px;font-size:24px;line-height:32px;color:#46585a;transform:scaleX(0.9596)">0.241%</span>
<span class="t" style="left:41.86px;top:1189px;font-size:24px;line-height:32px;color:#46585a;transform:scaleX(1.0109)"><span style="color:#2e6ca0">PL</span> Poland</span>
<span class="t" style="left:505.57px;top:1188px;font-size:26px;line-height:34px;color:#ab4358;transform:scaleX(0.9553);font-weight:700">±0.8%</span>
<span class="t" style="left:896.20px;top:1189px;font-size:24px;line-height:32px;color:#46585a;transform:scaleX(0.9767)">4,155,450</span>
<span class="t" style="left:1041.88px;top:1189px;font-size:24px;line-height:32px;color:#4e7b22;transform:scaleX(0.8769)">5%</span>
<span class="t" style="left:1351.26px;top:1189px;font-size:24px;line-height:32px;color:#46585a;transform:scaleX(0.9809)">4,175,684</span>
<span class="t" style="left:1769.58px;top:1189px;font-size:24px;line-height:32px;color:#46585a;transform:scaleX(1.0179)">133</span>
<span class="t" style="left:1851.85px;top:1189px;font-size:24px;line-height:32px;color:#4e7b22;transform:scaleX(0.8984)">0%</span>
<span class="t" style="left:2165.61px;top:1189px;font-size:24px;line-height:32px;color:#46585a;transform:scaleX(0.9891)">49,820.19</span>
<span class="t" style="left:2645.49px;top:1189px;font-size:24px;line-height:32px;color:#46585a;transform:scaleX(0.9934)">49,821.56</span>
<span class="t" style="left:3331.92px;top:1189px;font-size:24px;line-height:32px;color:#46585a;transform:scaleX(0.9596)">0.003%</span>
<span class="t" style="left:41.66px;top:1245px;font-size:24px;line-height:32px;color:#46585a;transform:scaleX(1.0217)"><span style="color:#2e6ca0">IT</span> Italy</span>
<span class="t" style="left:527.99px;top:1244px;font-size:26px;line-height:34px;color:#ab4358;transform:scaleX(0.9203);font-weight:700">±1%</span>
<span class="t" style="left:896.46px;top:1245px;font-size:24px;line-height:32px;color:#46585a;transform:scaleX(0.9753)">1,620,129</span>
<span class="t" style="left:1040.87px;top:1245px;font-size:24px;line-height:32px;color:#4e7b22;transform:scaleX(0.9068)">2%</span>
<span class="t" style="left:1351.58px;top:1245px;font-size:24px;line-height:32px;color:#46585a;transform:scaleX(0.9832)">1,829,782</span>
<span class="t" style="left:1781.85px;top:1245px;font-size:24px;line-height:32px;color:#46585a;transform:scaleX(1.0736)">72</span>
<span class="t" style="left:1851.85px;top:1245px;font-size:24px;line-height:32px;color:#4e7b22;transform:scaleX(0.8984)">0%</span>
<span class="t" style="left:2165.64px;top:1245px;font-size:24px;line-height:32px;color:#46585a;transform:scaleX(0.9885)">19,228.83</span>
<span class="t" style="left:2645.24px;top:1245px;font-size:24px;line-height:32px;color:#46585a;transform:scaleX(0.9968)">19,233.62</span>
<span class="t" style="left:3331.92px;top:1245px;font-size:24px;line-height:32px;color:#46585a;transform:scaleX(0.9596)">0.004%</span>
<span class="t" style="left:43.69px;top:1301px;font-size:24px;line-height:32px;color:#46585a;transform:scaleX(0.9786)"><span style="color:#2e6ca0">AO</span> Angola</span>
<span class="t" style="left:527.99px;top:1300px;font-size:26px;line-height:34px;color:#ab4358;transform:scaleX(0.9203);font-weight:700">±1%</span>
<span class="t" style="left:895.68px;top:1301px;font-size:24px;line-height:32px;color:#46585a;transform:scaleX(0.9832)">1,577,942</span>
<span class="t" style="left:1040.87px;top:1301px;font-size:24px;line-height:32px;color:#4e7b22;transform:scaleX(0.9068)">2%</span>
<span class="t" style="left:1338.44px;top:1301px;font-size:24px;line-height:32px;color:#46585a;transform:scaleX(0.9840)">16,490,395</span>
<span class="t" style="left:1768.53px;top:1301px;font-size:24px;line-height:32px;color:#46585a;transform:scaleX(1.0303)">394</span>
<span class="t" style="left:1851.85px;top:1301px;font-size:24px;line-height:32px;color:#4e7b22;transform:scaleX(0.8984)">0%</span>
<span class="t" style="left:2177.97px;top:1301px;font-size:24px;line-height:32px;color:#46585a;transform:scaleX(0.9949)">1,132.74</span>
<span class="t" style="left:2659.25px;top:1301px;font-size:24px;line-height:32px;color:#46585a;transform:scaleX(0.9888)">1,365.78</span>
<span class="t" style="left:3331.92px;top:1301px;font-size:24px;line-height:32px;color:#46585a;transform:scaleX(0.9596)">0.025%</span>
<span class="t" style="left:41.96px;top:1357px;font-size:24px;line-height:32px;color:#46585a;transform:scaleX(0.9615)"><span style="color:#2e6ca0">FR</span> France</span>
<span class="t" style="left:527.99px;top:1356px;font-size:26px;line-height:34px;color:#ab4358;transform:scaleX(0.9203);font-weight:700">±2%</span>
<span class="t" style="left:900.08px;top:1357px;font-size:24px;line-height:32px;color:#46585a;transform:scaleX(0.9413)">1,253,391</span>
<span class="t" style="left:1041.06px;top:1357px;font-size:24px;line-height:32px;color:#4e7b22;transform:scaleX(0.9010)">1%</span>
<span class="t" style="left:1351.90px;top:1357px;font-size:24px;line-height:32px;color:#46585a;transform:scaleX(0.9788)">1,315,455</span>
<span class="t" style="left:1782.84px;top:1357px;font-size:24px;line-height:32px;color:#46585a;transform:scaleX(1.0294)">66</span>
<span class="t" style="left:1851.85px;top:1357px;font-size:24px;line-height:32px;color:#4e7b22;transform:scaleX(0.8984)">0%</span>
<span class="t" style="left:2164.97px;top:1357px;font-size:24px;line-height:32px;color:#46585a;transform:scaleX(0.9956)">14,728.57</span>
<span class="t" style="left:2645.66px;top:1357px;font-size:24px;line-height:32px;color:#46585a;transform:scaleX(0.9913)">14,736.20</span>
<span class="t" style="left:3331.92px;top:1357px;font-size:24px;line-height:32px;color:#46585a;transform:scaleX(0.9596)">0.005%</span>
<span class="t" style="left:41.98px;top:1413px;font-size:24px;line-height:32px;color:#46585a;transform:scaleX(0.9539)"><span style="color:#2e6ca0">DE</span> Germany</span>
<span class="t" style="left:527.99px;top:1412px;font-size:26px;line-height:34px;color:#ab4358;transform:scaleX(0.9203);font-weight:700">±2%</span>
<span class="t" style="left:914.29px;top:1413px;font-size:24px;line-height:32px;color:#46585a;transform:scaleX(0.9955)">818,037</span>
<span class="t" style="left:1041.06px;top:1413px;font-size:24px;line-height:32px;color:#4e7b22;transform:scaleX(0.9010)">1%</span>
<span class="t" style="left:1370.10px;top:1413px;font-size:24px;line-height:32px;color:#46585a;transform:scaleX(0.9966)">888,592</span>
<span class="t" style="left:1782.15px;top:1413px;font-size:24px;line-height:32px;color:#46585a;transform:scaleX(1.0617)">32</span>
<span class="t" style="left:1851.85px;top:1413px;font-size:24px;line-height:32px;color:#4e7b22;transform:scaleX(0.8984)">0%</span>
<span class="t" style="left:2178.52px;top:1413px;font-size:24px;line-height:32px;color:#46585a;transform:scaleX(0.9920)">9,658.95</span>
<span class="t" style="left:2658.32px;top:1413px;font-size:24px;line-height:32px;color:#46585a;transform:scaleX(0.9955)">9,662.94</span>
<span class="t" style="left:3331.92px;top:1413px;font-size:24px;line-height:32px;color:#46585a;transform:scaleX(0.9596)">0.004%</span>
<span class="t" style="left:41.91px;top:1469px;font-size:24px;line-height:32px;color:#46585a;transform:scaleX(0.9871)"><span style="color:#2e6ca0">BE</span> Belgium</span>
<span class="t" style="left:527.99px;top:1468px;font-size:26px;line-height:34px;color:#ab4358;transform:scaleX(0.9203);font-weight:700">±2%</span>
<span class="t" style="left:914.46px;top:1469px;font-size:24px;line-height:32px;color:#46585a;transform:scaleX(0.9869)">556,644</span>
<span class="t" style="left:1041.06px;top:1469px;font-size:24px;line-height:32px;color:#4e7b22;transform:scaleX(0.9010)">1%</span>
<span class="t" style="left:1370.84px;top:1469px;font-size:24px;line-height:32px;color:#46585a;transform:scaleX(0.9879)">582,002</span>
<span class="t" style="left:1786.69px;top:1469px;font-size:24px;line-height:32px;color:#46585a;transform:scaleX(0.8827)">31</span>
<span class="t" style="left:1851.85px;top:1469px;font-size:24px;line-height:32px;color:#4e7b22;transform:scaleX(0.8984)">0%</span>
<span class="t" style="left:2178.19px;top:1469px;font-size:24px;line-height:32px;color:#46585a;transform:scaleX(0.9926)">6,667.14</span>
<span class="t" style="left:2663.25px;top:1469px;font-size:24px;line-height:32px;color:#46585a;transform:scaleX(0.9465)">6,667.51</span>
<span class="t" style="left:3331.92px;top:1469px;font-size:24px;line-height:32px;color:#46585a;transform:scaleX(0.9596)">0.005%</span>
<span class="t" style="left:41.96px;top:1525px;font-size:24px;line-height:32px;color:#46585a;transform:scaleX(0.9617)"><span style="color:#2e6ca0">ES</span> Spain</span>
<span class="t" style="left:527.99px;top:1524px;font-size:26px;line-height:34px;color:#ab4358;transform:scaleX(0.9203);font-weight:700">±2%</span>
<span class="t" style="left:914.46px;top:1525px;font-size:24px;line-height:32px;color:#46585a;transform:scaleX(0.9869)">505,674</span>
<span class="t" style="left:1041.06px;top:1525px;font-size:24px;line-height:32px;color:#4e7b22;transform:scaleX(0.9010)">1%</span>
<span class="t" style="left:1373.74px;top:1525px;font-size:24px;line-height:32px;color:#46585a;transform:scaleX(0.9537)">722,981</span>
<span class="t" style="left:1770.49px;top:1525px;font-size:24px;line-height:32px;color:#46585a;transform:scaleX(0.9944)">553</span>
<span class="t" style="left:1851.85px;top:1525px;font-size:24px;line-height:32px;color:#4e7b22;transform:scaleX(0.8984)">0%</span>
<span class="t" style="left:2177.85px;top:1525px;font-size:24px;line-height:32px;color:#46585a;transform:scaleX(0.9962)">2,402.74</span>
<span class="t" style="left:2658.88px;top:1525px;font-size:24px;line-height:32px;color:#46585a;transform:scaleX(0.9940)">2,764.67</span>
<span class="t" style="left:3331.92px;top:1525px;font-size:24px;line-height:32px;color:#46585a;transform:scaleX(0.9596)">0.109%</span>
<span class="t" style="left:42.48px;top:1581px;font-size:24px;line-height:32px;color:#46585a;transform:scaleX(0.9938)"><span style="color:#2e6ca0">(empty value)</span></span>
<span class="t" style="left:527.99px;top:1580px;font-size:26px;line-height:34px;color:#ab4358;transform:scaleX(0.9203);font-weight:700">±4%</span>
<span class="t" style="left:914.47px;top:1581px;font-size:24px;line-height:32px;color:#46585a;transform:scaleX(1.0143)">211,193</span>
<span class="t" style="left:1041.15px;top:1581px;font-size:24px;line-height:32px;color:#4e7b22;transform:scaleX(0.8984)">0%</span>
<span class="t" style="left:1370.14px;top:1581px;font-size:24px;line-height:32px;color:#46585a;transform:scaleX(0.9944)">817,215</span>
<span class="t" style="left:1751.11px;top:1581px;font-size:24px;line-height:32px;color:#46585a;transform:scaleX(0.9858)">2,853</span>
<span class="t" style="left:1851.85px;top:1581px;font-size:24px;line-height:32px;color:#4e7b22;transform:scaleX(0.8984)">0%</span>
<span class="t" style="left:2197.02px;top:1581px;font-size:24px;line-height:32px;color:#46585a;transform:scaleX(1.0096)">169.10</span>
<span class="t" style="left:2677.31px;top:1581px;font-size:24px;line-height:32px;color:#46585a;transform:scaleX(1.0125)">233.88</span>
<span class="t" style="left:3331.77px;top:1581px;font-size:24px;line-height:32px;color:#46585a;transform:scaleX(0.9613)">1.351%</span>
<span class="t" style="left:41.82px;top:1637px;font-size:24px;line-height:32px;color:#46585a;transform:scaleX(1.0301)"><span style="color:#2e6ca0">MX</span> Mexico</span>
<span class="t" style="left:527.99px;top:1636px;font-size:26px;line-height:34px;color:#ab4358;transform:scaleX(0.9203);font-weight:700">±4%</span>
<span class="t" style="left:918.03px;top:1637px;font-size:24px;line-height:32px;color:#46585a;transform:scaleX(0.9515)">200,401</span>
<span class="t" style="left:1041.15px;top:1637px;font-size:24px;line-height:32px;color:#4e7b22;transform:scaleX(0.8984)">0%</span>
<span class="t" style="left:1370.24px;top:1637px;font-size:24px;line-height:32px;color:#46585a;transform:scaleX(0.9930)">243,100</span>
<span class="t" style="left:1751.21px;top:1637px;font-size:24px;line-height:32px;color:#46585a;transform:scaleX(0.9841)">3,013</span>
<span class="t" style="left:1851.85px;top:1637px;font-size:24px;line-height:32px;color:#4e7b22;transform:scaleX(0.8984)">0%</span>
<span class="t" style="left:2197.19px;top:1637px;font-size:24px;line-height:32px;color:#46585a;transform:scaleX(1.0090)">161.53</span>
<span class="t" style="left:2677.32px;top:1637px;font-size:24px;line-height:32px;color:#46585a;transform:scaleX(1.0111)">218.00</span>
<span class="t" style="left:3331.77px;top:1637px;font-size:24px;line-height:32px;color:#46585a;transform:scaleX(0.9613)">1.504%</span>
<span class="t" style="left:43.69px;top:1693px;font-size:24px;line-height:32px;color:#46585a;transform:scaleX(0.9879)"><span style="color:#2e6ca0">AU</span> Australia</span>
<span class="t" style="left:527.99px;top:1692px;font-size:26px;line-height:34px;color:#ab4358;transform:scaleX(0.9203);font-weight:700">±4%</span>
<span class="t" style="left:914.15px;top:1693px;font-size:24px;line-height:32px;color:#46585a;transform:scaleX(0.9971)">154,157</span>
<span class="t" style="left:1041.15px;top:1693px;font-size:24px;line-height:32px;color:#4e7b22;transform:scaleX(0.8984)">0%</span>
<span class="t" style="left:1369.43px;top:1693px;font-size:24px;line-height:32px;color:#46585a;transform:scaleX(1.0188)">311,924</span>
<span class="t" style="left:1750.71px;top:1693px;font-size:24px;line-height:32px;color:#46585a;transform:scaleX(0.9921)">1,815</span>
<span class="t" style="left:1851.85px;top:1693px;font-size:24px;line-height:32px;color:#4e7b22;transform:scaleX(0.8984)">0%</span>
<span class="t" style="left:2210.91px;top:1693px;font-size:24px;line-height:32px;color:#46585a;transform:scaleX(1.0062)">89.43</span>
<span class="t" style="left:2677.58px;top:1693px;font-size:24px;line-height:32px;color:#46585a;transform:scaleX(1.0096)">126.89</span>
<span class="t" style="left:3331.77px;top:1693px;font-size:24px;line-height:32px;color:#46585a;transform:scaleX(0.9613)">1.177%</span>
</div></body></html>
